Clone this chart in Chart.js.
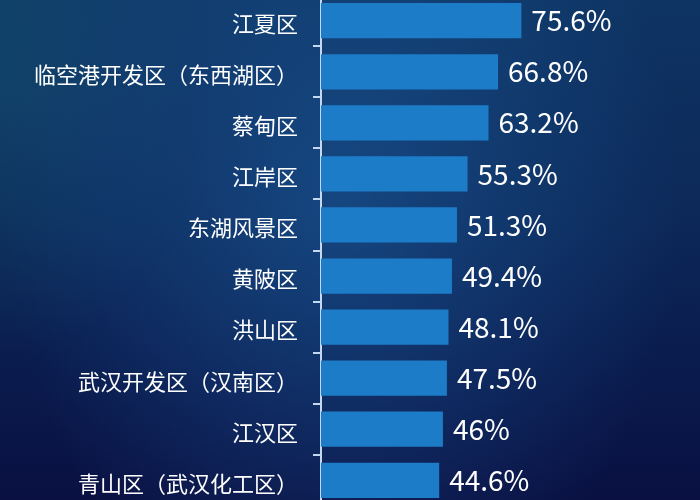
<!DOCTYPE html>
<html>
<head>
<meta charset="utf-8">
<script src="https://cdn.jsdelivr.net/npm/chart.js@4"></script>
<style>
  html, body {
    margin: 0;
    width: 700px;
    height: 500px;
    overflow: hidden;
  }
  body {
    position: relative;
    background:
      radial-gradient(ellipse 340px 440px at 340px 200px, rgba(28, 90, 155, 0.6), rgba(28, 90, 155, 0) 100%),
      radial-gradient(ellipse 200px 300px at 0px 60px, rgba(20, 85, 115, 0.5), rgba(20, 85, 115, 0) 100%),
      linear-gradient(to bottom, #0e3463 0%, #0c2858 45%, #0a1a4c 75%, #0a1042 100%);
  }
  #chart {
    position: absolute;
    left: 0;
    top: -33px;
  }
</style>
</head>
<body>
<canvas id="chart" width="700" height="567"></canvas>
<script>
const districts = [
    "江夏区",
    "临空港开发区（东西湖区）",
    "蔡甸区",
    "江岸区",
    "东湖风景区",
    "黄陂区",
    "洪山区",
    "武汉开发区（汉南区）",
    "江汉区",
    "青山区（武汉化工区）"
];

const rates = [75.6, 66.8, 63.2, 55.3, 51.3, 49.4, 48.1, 47.5, 46, 44.6];

const fontFamily = '"Noto Sans CJK SC", "Noto Sans", sans-serif';

// draw the % value to the right of every bar
const valueLabels = {
    id: "valueLabels",
    afterDatasetsDraw(chart) {
        const ctx = chart.ctx;
        const meta = chart.getDatasetMeta(0);
        ctx.save();
        ctx.fillStyle = "#ffffff";
        ctx.font = "28px " + fontFamily;
        ctx.textAlign = "left";
        ctx.textBaseline = "middle";
        meta.data.forEach((bar, i) => {
            ctx.fillText(rates[i] + "%", bar.x + 10, bar.y);
        });
        ctx.restore();
    }
};

const ctx = document.getElementById("chart");

new Chart(ctx, {
    type: "bar",
    data: {
        labels: districts,
        datasets: [
            {
                data: rates,
                backgroundColor: "#1d7cc8",
                borderWidth: 0,
                categoryPercentage: 1,
                barPercentage: 0.69
            }
        ]
    },
    options: {
        indexAxis: "y",
        responsive: false,
        animation: false,
        layout: { padding: 0 },
        plugins: {
            legend: { display: false },
            tooltip: { enabled: false }
        },
        scales: {
            x: {
                display: false,
                min: 0,
                max: 143
            },
            y: {
                grid: {
                    display: true,
                    offset: true,
                    drawOnChartArea: false,
                    drawTicks: true,
                    tickLength: 8,
                    color: "rgba(205, 225, 245, 0.95)",
                    lineWidth: 2
                },
                border: {
                    display: true,
                    color: "rgba(205, 225, 245, 0.95)",
                    width: 2
                },
                ticks: {
                    color: "#ffffff",
                    padding: 15,
                    labelOffset: 3,
                    font: { family: fontFamily, size: 22 }
                },
                afterFit(scale) {
                    scale.width = 321;
                }
            }
        }
    },
    plugins: [valueLabels]
});
</script>
</body>
</html>
